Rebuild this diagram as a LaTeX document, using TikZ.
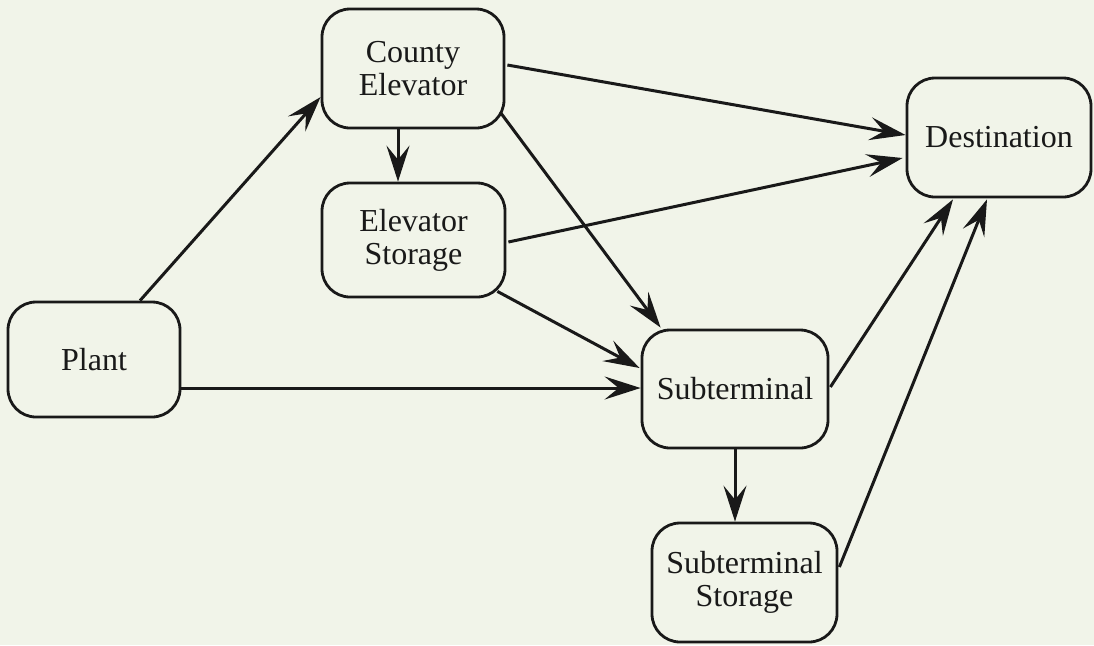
\documentclass[tikz,border=0pt]{standalone}
\usepackage{fontspec}
\setmainfont{Liberation Serif}
\usetikzlibrary{arrows.meta,calc}
\definecolor{bg}{RGB}{241,244,233}
\definecolor{ink}{RGB}{25,25,25}
\begin{document}
\begin{tikzpicture}[x=0.5pt,y=-0.5pt,
  box/.style={draw=ink, line width=1.4pt, rounded corners=14pt, align=center,
    inner sep=0pt, font=\fontsize{16}{16.5}\selectfont, text=ink},
  flow/.style={draw=ink, line width=1.5pt,
    -{Stealth[length=18pt,width=11.5pt,inset=7pt]}}]
\fill[bg] (0,0) rectangle (1094,645);
\useasboundingbox (0,0) rectangle (1094,645);

\node[box, minimum width=86pt, minimum height=57.5pt] (plant) at (94,359.5) {Plant};
\node[box, minimum width=91pt, minimum height=59.5pt] (county) at (413,68.5) {County\\Elevator};
\node[box, minimum width=91.5pt, minimum height=57pt] (elev) at (413.5,240) {Elevator\\Storage};
\node[box, minimum width=93pt, minimum height=59pt] (sub) at (735,389) {Subterminal};
\node[box, minimum width=92.5pt, minimum height=59.5pt] (substor) at (744.5,582.5) {Subterminal\\Storage};
\node[box, minimum width=92pt, minimum height=59.5pt] (dest) at (999,137.5) {Destination};

\coordinate (p7) at ($(plant.east)+(0,28.5)$);

\draw[flow] ($(plant.north)+(46,0)$) -- ($(county.west)+(0,28.5)$);
\draw[flow] ($(county.south)+(-15,0)$) -- ($(elev.north)+(-15.5,0)$);
\draw[flow] ($(county.east)+(2,-3.5)$) -- ($(dest.west)+(0,-2.5)$);
\draw[flow] ($(elev.east)+(2,2)$) -- ($(dest.west)+(-3,20.5)$);
\draw[flow] ($(county.south east)+(-5,-17)$) -- ($(sub.north west)+(20,-1)$);
\draw[flow] ($(elev.south east)+(-9,-7)$) -- ($(sub.west)+(-1,-21)$);
\draw[flow] (p7) -- (p7 -| sub.west);
\draw[flow] ($(sub.east)+(1,-2)$) -- ($(dest.south)+(-46,1)$);
\draw[flow] ($(substor.east)+(1,-15.5)$) -- ($(dest.south)+(-12,1)$);
\draw[flow] (sub.south) -- (sub.south |- substor.north);
\end{tikzpicture}
\end{document}
